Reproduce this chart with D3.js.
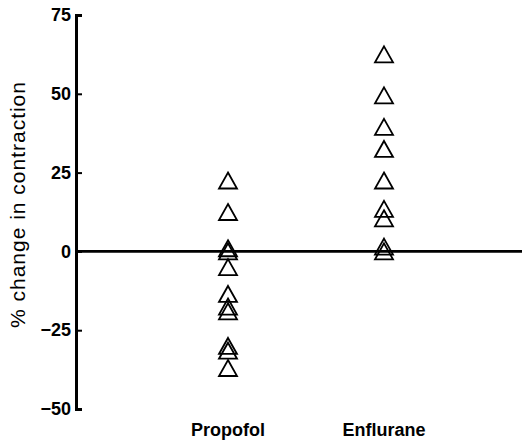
<!DOCTYPE html>
<html>
<head>
<meta charset="utf-8">
<script src="https://cdn.jsdelivr.net/npm/d3@7"></script>
<style>
  html, body { margin: 0; padding: 0; background: #fff; }
  svg { display: block; }
  text { font-family: "Liberation Sans", Arial, Helvetica, sans-serif; fill: #000; }
</style>
</head>
<body>
<svg id="chart" width="522" height="443"></svg>
<script>
const categories = ["Propofol", "Enflurane"];
const propofolValues = [22.5, 12.5, 1, 0, -5, -13.5, -17.5, -19, -30, -31.5, -37];
const enfluraneValues = [62.5, 49.5, 39.5, 32.5, 22.5, 13.5, 10.5, 1.5, 0];
const yTicks = [-50, -25, 0, 25, 50, 75];
const yLabel = "% change in contraction";

const svg = d3.select("#chart");
const W = 522;

const y = d3.scaleLinear().domain([-50, 75]).range([409, 15]);
const x = d3.scalePoint().domain(categories).range([228, 384]);
const axisX = 76;

// y axis
const yAxis = d3.axisLeft(y)
  .tickValues(yTicks)
  .tickSize(-6)
  .tickPadding(5)
  .tickFormat(d => d < 0 ? "\u2212" + Math.abs(d) : String(d));

const gy = svg.append("g")
  .attr("transform", `translate(${axisX},0)`)
  .call(yAxis);
gy.select(".domain").attr("stroke", "#000").attr("stroke-width", 3);
gy.selectAll(".tick line").attr("stroke", "#000").attr("stroke-width", 2);
gy.selectAll(".tick text")
  .attr("font-size", 18)
  .attr("font-weight", "bold")
  .attr("font-family", "'Liberation Sans', Arial, sans-serif");

// zero line
svg.append("line")
  .attr("x1", axisX).attr("x2", W)
  .attr("y1", y(0)).attr("y2", y(0))
  .attr("stroke", "#000").attr("stroke-width", 2.8);

// y label
svg.append("text")
  .attr("transform", `translate(25,${205}) rotate(-90)`)
  .attr("text-anchor", "middle")
  .attr("font-size", 21)
  .attr("textLength", 246)
  .attr("lengthAdjust", "spacing")
  .text(yLabel);

// category labels
svg.selectAll(".cat")
  .data(categories)
  .enter().append("text")
  .attr("class", "cat")
  .attr("x", d => x(d))
  .attr("y", 436)
  .attr("text-anchor", "middle")
  .attr("font-size", 18)
  .attr("font-weight", "bold")
  .text(d => d);

// triangles
const series = [
  { cat: "Propofol", values: propofolValues },
  { cat: "Enflurane", values: enfluraneValues }
];
const hw = 9, hh = 8;
function tri(cx, cy) {
  const p = d3.path();
  p.moveTo(cx, cy - hh);
  p.lineTo(cx + hw, cy + hh);
  p.lineTo(cx - hw, cy + hh);
  p.closePath();
  return p.toString();
}
const pts = series.flatMap(s => s.values.map(v => ({ cat: s.cat, v })));
svg.append("g").selectAll("path")
  .data(pts)
  .enter().append("path")
  .attr("d", d => tri(x(d.cat), y(d.v)))
  .attr("fill", "none")
  .attr("stroke", "#000")
  .attr("stroke-width", 1.8)
  .attr("stroke-linejoin", "miter");
</script>
</body>
</html>
